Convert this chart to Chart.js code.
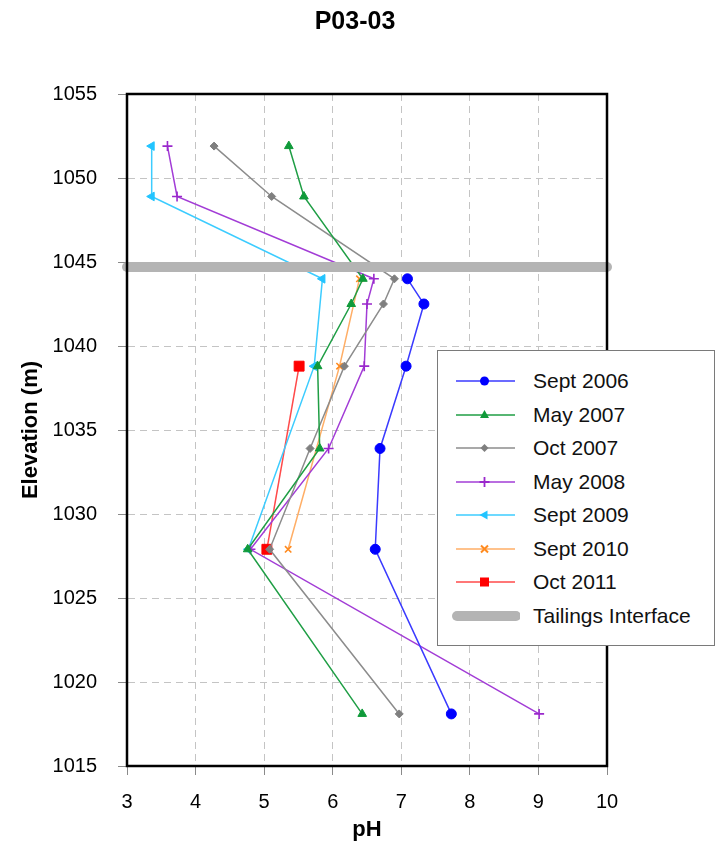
<!DOCTYPE html>
<html>
<head>
<meta charset="utf-8">
<title>P03-03</title>
<script src="https://cdn.jsdelivr.net/npm/chart.js@4"></script>
<style>
  body { margin: 0; background: #fff; }
  #wrap { position: relative; width: 723px; height: 850px; }
  #legend {
    position: absolute; left: 437px; top: 350px; width: 276px; height: 294px;
    border: 1px solid #7a7a7a; background: #fff;
    font-family: 'Liberation Sans', Arial, sans-serif; font-size: 21px; color: #111;
  }
  .row { position: absolute; left: 0; width: 100%; height: 32px; }
  .row svg { position: absolute; left: 12px; top: 6px; }
  .row span { position: absolute; left: 95px; top: 0; line-height: 32px; white-space: nowrap; }
</style>
</head>
<body>
<div id="wrap">
  <canvas id="ph-chart" width="723" height="850"></canvas>
  <div id="legend"></div>
</div>
<script>
// sampling elevations (m) and pH per survey
const elevations = [1051.9, 1048.9, 1044.0, 1042.5, 1038.8, 1033.9, 1027.9, 1018.1];
const seriesNames = ['Sept 2006', 'May 2007', 'Oct 2007', 'May 2008', 'Sept 2009', 'Sept 2010', 'Oct 2011'];
const phSept2006 = [null, null, 7.09, 7.33, 7.07, 6.69, 6.62, 7.73];
const phMay2007  = [5.36, 5.58, 6.44, 6.27, 5.78, 5.81, 4.76, 6.43];
const phOct2007  = [4.27, 5.11, 6.90, 6.74, 6.17, 5.67, 5.08, 6.97];
const phMay2008  = [3.59, 3.73, 6.60, 6.50, 6.46, 5.94, 4.80, 9.01];
const phSept2009 = [3.36, 3.36, 5.85, null, 5.73, null, 4.77, null];
const phSept2010 = [null, null, 6.39, null, 6.10, null, 5.35, null];
const phOct2011  = [null, null, null, null, 5.51, null, 5.04, null];
const tailingsName = 'Tailings Interface';
const tailingsElevation = 1044.7;
const phRange = [3, 10];
const elevRange = [1015, 1055];

const seriesValues = [phSept2006, phMay2007, phOct2007, phMay2008, phSept2009, phSept2010, phOct2011];
const lineColors   = ['#3a3aff', '#1f9e45', '#8c8c8c', '#a23cd6', '#3cccff', '#ffae66', '#ff4a4a'];
const markColors   = ['#0000ff', '#109a3a', '#7f7f7f', '#9a28cc', '#22c4ff', '#ff8a1e', '#ff0000'];
const markStyles   = ['circle', 'triangle', 'rectRot', 'cross', 'triangle', 'crossRot', 'rect'];
const markRadius   = [5, 5, 4, 5, 5, 4.5, 7];
const markRotation = [0, 0, 0, 0, -90, 0, 0];

function toPoints(values) {
  const pts = [];
  values.forEach((v, i) => { if (v !== null) pts.push({ x: v, y: elevations[i] }); });
  return pts;
}

const datasets = seriesNames.map((name, i) => ({
  label: name,
  data: toPoints(seriesValues[i]),
  showLine: true,
  borderColor: lineColors[i],
  borderWidth: 1.5,
  pointStyle: markStyles[i],
  pointRadius: markRadius[i],
  pointRotation: markRotation[i],
  pointBackgroundColor: markColors[i],
  pointBorderColor: markColors[i],
  pointBorderWidth: (markStyles[i] === 'cross' || markStyles[i] === 'crossRot') ? 1.6 : 1
}));

datasets.push({
  label: tailingsName,
  data: [{ x: phRange[0], y: tailingsElevation }, { x: phRange[1], y: tailingsElevation }],
  showLine: true,
  borderColor: '#b4b4b4',
  borderWidth: 10,
  borderCapStyle: 'round',
  pointRadius: 0,
  clip: false,
  order: -1
});

const framePlugin = {
  id: 'frame',
  afterDatasetsDraw(chart) {
    const { ctx, chartArea: a } = chart;
    ctx.save();
    ctx.strokeStyle = '#000';
    ctx.lineWidth = 2.5;
    ctx.strokeRect(a.left, a.top, a.right - a.left, a.bottom - a.top);
    ctx.restore();
  }
};

Chart.defaults.font.family = "'Liberation Sans', Arial, sans-serif";
Chart.defaults.color = '#000';

new Chart(document.getElementById('ph-chart'), {
  type: 'scatter',
  data: { datasets: datasets },
  options: {
    responsive: false,
    animation: false,
    layout: { padding: { left: 0, right: 13, top: 0, bottom: 0 } },
    plugins: {
      legend: { display: false },
      tooltip: { enabled: false },
      title: {
        display: true,
        text: 'P03-03',
        font: { size: 25, weight: 'bold' },
        color: '#000',
        padding: { top: 7, bottom: 57 }
      }
    },
    scales: {
      x: {
        type: 'linear',
        min: phRange[0],
        max: phRange[1],
        ticks: { stepSize: 1, font: { size: 20 }, padding: 15, callback: (v) => String(v) },
        grid: { color: '#c4c4c4', tickColor: '#8a8a8a', tickLength: 9 },
        border: { display: true, color: '#000', width: 2, dash: [7, 5] },
        title: { display: true, text: 'pH', font: { size: 22, weight: 'bold' }, padding: { bottom: 7 } },
        afterFit: (scale) => { scale.height = 84; }
      },
      y: {
        type: 'linear',
        min: elevRange[0],
        max: elevRange[1],
        ticks: { stepSize: 5, font: { size: 20 }, padding: 21, callback: (v) => String(v) },
        grid: { color: '#c4c4c4', tickColor: '#8a8a8a', tickLength: 9 },
        border: { display: true, color: '#000', width: 2, dash: [7, 5] },
        title: { display: true, text: 'Elevation (m)', font: { size: 22, weight: 'bold' }, padding: { top: 18 } },
        afterFit: (scale) => { scale.width = 127; }
      },
      // empty spacer on the right so the plot ends where the original does
      y2: {
        type: 'linear',
        position: 'right',
        display: true,
        ticks: { display: false },
        grid: { display: false },
        border: { display: false },
        afterFit: (scale) => { scale.width = 103; }
      }
    }
  },
  plugins: [framePlugin]
});

// legend box drawn as html over the plot
function markerSvg(i) {
  const c = markColors[i], cx = 34.5, cy = 10;
  switch (markStyles[i]) {
    case 'circle': return `<circle cx="${cx}" cy="${cy}" r="4.5" fill="${c}"/>`;
    case 'triangle':
      if (markRotation[i] === -90) return `<polygon points="${cx - 5},${cy} ${cx + 3},${cy - 4.5} ${cx + 3},${cy + 4.5}" fill="${c}"/>`;
      return `<polygon points="${cx},${cy - 5} ${cx + 4.5},${cy + 3} ${cx - 4.5},${cy + 3}" fill="${c}"/>`;
    case 'rectRot': return `<polygon points="${cx},${cy - 4} ${cx + 4},${cy} ${cx},${cy + 4} ${cx - 4},${cy}" fill="${c}"/>`;
    case 'cross': return `<path d="M${cx - 5} ${cy}H${cx + 5}M${cx} ${cy - 5}V${cy + 5}" stroke="${c}" stroke-width="1.8"/>`;
    case 'crossRot': return `<path d="M${cx - 3.5} ${cy - 3.5}L${cx + 3.5} ${cy + 3.5}M${cx + 3.5} ${cy - 3.5}L${cx - 3.5} ${cy + 3.5}" stroke="${c}" stroke-width="2"/>`;
    case 'rect': return `<rect x="${cx - 4.5}" y="${cy - 4.5}" width="9" height="9" fill="${c}"/>`;
  }
  return '';
}

const legendEl = document.getElementById('legend');
let html = '';
seriesNames.forEach((name, i) => {
  const top = 14 + i * 33.5;
  html += `<div class="row" style="top:${top}px"><svg width="70" height="20">` +
    `<line x1="6" y1="10" x2="65" y2="10" stroke="${lineColors[i]}" stroke-width="1.6"/>` +
    markerSvg(i) + `</svg><span>${name}</span></div>`;
});
html += `<div class="row" style="top:${14 + 7 * 33.5}px"><svg width="70" height="20">` +
  `<line x1="7" y1="10" x2="66" y2="10" stroke="#b4b4b4" stroke-width="10" stroke-linecap="round"/>` +
  `</svg><span>${tailingsName}</span></div>`;
legendEl.innerHTML = html;
</script>
</body>
</html>
